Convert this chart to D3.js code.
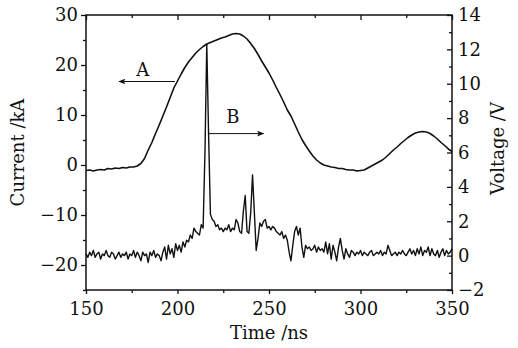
<!DOCTYPE html>
<html>
<head>
<meta charset="utf-8">
<script src="https://cdn.jsdelivr.net/npm/d3@7"></script>
<style>
  body { margin: 0; background: #fff; }
  text { font-family: "DejaVu Serif", serif; fill: #111; }
</style>
</head>
<body>
<div id="chart"></div>
<script>
// curve A: current (kA), left axis
const currentTime = [150,152,154,156,158,160,162,164,166,168,170,172,174,176,178,180,182,184,186,188,
  190,192,194,196,198,200,202,204,206,208,210,212,214,216,218,220,222,224,226,228,
  230,232,234,236,238,240,242,244,246,248,250,252,254,256,258,260,262,264,266,268,
  270,272,274,276,278,280,282,284,286,288,290,292,294,296,298,300,302,304,306,308,
  310,312,314,316,318,320,322,324,326,328,330,332,334,336,338,340,342,344,346,348,350];
const currentKA = [-1.1,-1.0,-1.2,-1.0,-0.9,-1.0,-0.7,-0.8,-0.6,-0.7,-0.5,-0.6,-0.4,-0.4,-0.2,0.3,1.3,3.0,4.5,6.3,
  8.0,9.8,11.6,13.5,15.4,16.8,18.2,19.5,20.6,21.5,22.4,23.1,23.7,24.2,24.5,24.8,25.1,25.4,25.6,25.9,
  26.2,26.3,26.2,25.8,25.2,24.3,23.3,22.1,20.8,19.6,18.4,17.0,15.5,14.1,12.6,11.0,9.8,8.2,6.6,5.1,
  3.9,2.8,1.8,1.0,0.4,0.0,-0.2,-0.4,-0.5,-0.7,-0.7,-0.9,-1.0,-1.0,-1.2,-1.1,-1.0,-0.6,-0.2,0.2,
  0.6,1.0,1.6,2.3,3.0,3.6,4.3,4.9,5.5,6.0,6.4,6.6,6.7,6.6,6.3,5.8,5.2,4.5,3.9,3.2,2.7];

// curve B: voltage (V), right axis, one sample per ns from 150 ns
const voltageStart = 150;
const voltageV = [
  0.1,-0.1,0.2,0.0,0.3,-0.1,0.1,0.2,-0.2,0.1,
  0.0,0.3,0.0,-0.1,0.2,0.1,-0.2,0.0,0.2,-0.1,
  0.1,0.0,0.2,-0.2,0.1,0.0,0.3,-0.1,0.2,0.0,
  -0.3,0.2,0.0,0.1,-0.4,0.2,0.0,0.3,-0.1,0.1,
  0.0,-0.3,0.2,0.5,-0.2,0.6,0.1,0.4,-0.1,0.7,
  0.3,0.6,0.2,0.8,0.5,0.9,0.8,1.2,1.0,1.6,
  1.4,1.3,1.2,1.8,1.6,6.0,12.3,7.0,2.4,2.1,
  2.0,1.7,1.8,1.5,1.6,1.4,1.6,1.5,1.8,1.4,
  1.6,1.5,2.1,1.9,1.4,1.3,2.6,3.5,1.4,1.3,
  2.5,4.7,2.5,0.3,1.0,1.9,1.7,2.0,2.1,1.6,
  1.7,1.5,1.7,1.6,1.4,1.3,1.2,1.4,1.0,1.2,
  0.9,0.2,-0.3,0.6,1.4,1.7,1.2,1.6,0.5,-0.1,
  0.6,0.4,0.5,0.3,0.4,0.6,0.2,0.5,0.3,0.4,
  0.2,0.8,0.1,0.7,-0.2,0.6,0.2,-0.3,0.5,1.0,
  0.3,-0.2,0.4,0.1,-0.1,0.3,0.2,0.0,0.2,0.1,
  0.3,0.0,0.2,0.1,0.0,0.2,0.3,0.0,0.1,0.2,
  0.1,0.3,0.0,0.2,0.1,0.6,0.3,0.0,0.1,0.2,
  0.0,0.2,0.1,0.3,0.1,0.0,0.2,0.4,0.1,0.3,
  0.0,0.4,0.1,0.5,0.0,0.3,0.2,0.5,0.0,0.4,
  0.1,0.0,0.3,-0.1,0.2,0.4,0.0,0.3,0.1,0.2,
  0.4];

const xTicks = [150, 200, 250, 300, 350];
const xMinor = [175, 225, 275, 325];
const leftTicks = [-20, -10, 0, 10, 20, 30];
const leftMinor = [-25, -15, -5, 5, 15, 25];
const rightTicks = [-2, 0, 2, 4, 6, 8, 10, 12, 14];
const rightMinor = [-1, 1, 3, 5, 7, 9, 11, 13];

const W = 518, H = 348;
const margin = { top: 15, right: 66, bottom: 58, left: 86 };
const width = W - margin.left - margin.right;
const height = H - margin.top - margin.bottom;

const svg = d3.select("#chart").append("svg")
  .attr("width", W).attr("height", H);

svg.append("defs").append("marker")
  .attr("id", "head")
  .attr("viewBox", "0 0 10 10")
  .attr("refX", 9).attr("refY", 5)
  .attr("markerWidth", 9).attr("markerHeight", 7)
  .attr("markerUnits", "userSpaceOnUse")
  .attr("orient", "auto")
  .append("path").attr("d", "M0,1 L10,5 L0,9 L2,5 Z").attr("fill", "#111");

const g = svg.append("g")
  .attr("transform", `translate(${margin.left},${margin.top})`);

const x = d3.scaleLinear().domain([150, 350]).range([0, width]);
const yI = d3.scaleLinear().domain([-25, 30]).range([height, 0]);
const yV = d3.scaleLinear().domain([-2, 14]).range([height, 0]);

// axes
const fontSize = "18px";
function styleAxis(sel) {
  sel.select(".domain").remove();
  sel.selectAll("line").attr("stroke", "#111").attr("stroke-width", 1.3);
  sel.selectAll("text").style("font-size", fontSize).attr("fill", "#111");
}

g.append("g").attr("transform", `translate(0,${height})`)
  .call(d3.axisBottom(x).tickValues(xTicks).tickSize(4).tickPadding(8).tickFormat(d3.format("d")))
  .call(styleAxis);
g.append("g").attr("transform", `translate(0,${height})`)
  .call(d3.axisBottom(x).tickValues(xMinor).tickSize(3).tickFormat(""))
  .call(styleAxis);
g.append("g")
  .call(d3.axisTop(x).tickValues(xTicks).tickSize(-5).tickFormat(""))
  .call(styleAxis);
g.append("g")
  .call(d3.axisTop(x).tickValues(xMinor).tickSize(-3).tickFormat(""))
  .call(styleAxis);

g.append("g")
  .call(d3.axisLeft(yI).tickValues(leftTicks).tickSize(5).tickPadding(3))
  .call(styleAxis);
g.append("g")
  .call(d3.axisLeft(yI).tickValues(leftMinor).tickSize(3).tickFormat(""))
  .call(styleAxis);

g.append("g").attr("transform", `translate(${width},0)`)
  .call(d3.axisRight(yV).tickValues(rightTicks).tickSize(-5).tickPadding(6))
  .call(styleAxis);
g.append("g").attr("transform", `translate(${width},0)`)
  .call(d3.axisRight(yV).tickValues(rightMinor).tickSize(-3).tickFormat(""))
  .call(styleAxis);

// frame
g.append("rect")
  .attr("width", width).attr("height", height)
  .attr("fill", "none").attr("stroke", "#111").attr("stroke-width", 1.5);

// curves
const lineA = d3.line()
  .x((d, i) => x(currentTime[i]))
  .y(d => yI(d));
g.append("path").datum(currentKA)
  .attr("d", lineA)
  .attr("fill", "none").attr("stroke", "#111").attr("stroke-width", 1.6)
  .attr("stroke-linejoin", "round");

const lineB = d3.line()
  .x((d, i) => x(voltageStart + i))
  .y(d => yV(d));
g.append("path").datum(voltageV)
  .attr("d", lineB)
  .attr("fill", "none").attr("stroke", "#111").attr("stroke-width", 1.4)
  .attr("stroke-linejoin", "round");

// annotations
g.append("line")
  .attr("x1", x(198.6)).attr("x2", x(168))
  .attr("y1", yI(16.7)).attr("y2", yI(16.7))
  .attr("stroke", "#111").attr("stroke-width", 1)
  .attr("marker-end", "url(#head)");
g.append("text")
  .attr("x", x(181)).attr("y", yI(17.8))
  .attr("text-anchor", "middle").style("font-size", fontSize)
  .text("A");

g.append("line")
  .attr("x1", x(216.8)).attr("x2", x(247))
  .attr("y1", yV(7.1)).attr("y2", yV(7.1))
  .attr("stroke", "#111").attr("stroke-width", 1)
  .attr("marker-end", "url(#head)");
g.append("text")
  .attr("x", x(230.3)).attr("y", yV(7.7))
  .attr("text-anchor", "middle").style("font-size", fontSize)
  .text("B");

// axis titles
svg.append("text")
  .attr("transform", `translate(24,${margin.top + height / 2}) rotate(-90)`)
  .attr("text-anchor", "middle").style("font-size", fontSize)
  .text("Current /kA");
svg.append("text")
  .attr("transform", `translate(504,${margin.top + height / 2 - 4}) rotate(-90)`)
  .attr("text-anchor", "middle").style("font-size", fontSize)
  .text("Voltage /V");
svg.append("text")
  .attr("x", margin.left + width / 2).attr("y", 339)
  .attr("text-anchor", "middle").style("font-size", fontSize)
  .text("Time /ns");
</script>
</body>
</html>
